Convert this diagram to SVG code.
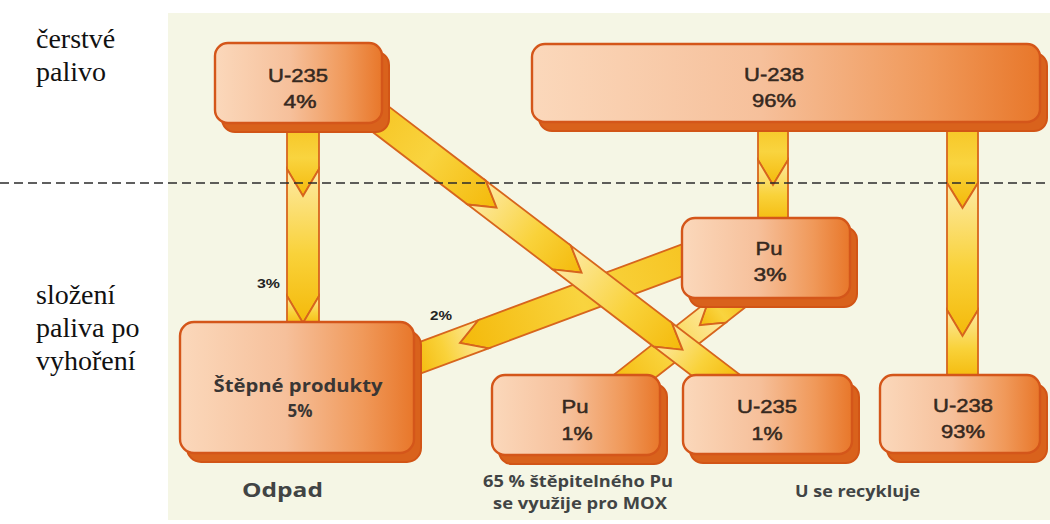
<svg xmlns="http://www.w3.org/2000/svg" width="1050" height="524" viewBox="0 0 1050 524">
<defs>
<linearGradient id="gNode" x1="0" y1="0" x2="1" y2="0">
<stop offset="0" stop-color="#fbd8bb"/>
<stop offset="0.45" stop-color="#f6c09b"/>
<stop offset="0.78" stop-color="#f0995a"/>
<stop offset="1" stop-color="#e8772a"/>
</linearGradient>
<linearGradient id="gSeg" x1="0" y1="0" x2="1" y2="0">
<stop offset="0" stop-color="#fdeaa4"/>
<stop offset="0.55" stop-color="#f9d23a"/>
<stop offset="1" stop-color="#f4b90a"/>
</linearGradient>
<linearGradient id="gSeg0" x1="0" y1="0" x2="1" y2="0">
<stop offset="0" stop-color="#f6c320"/>
<stop offset="0.5" stop-color="#f9d43f"/>
<stop offset="1" stop-color="#f4b90a"/>
</linearGradient>
<style>
.seg{fill:url(#gSeg);stroke:#d7651d;stroke-width:1.8;stroke-linejoin:miter}
.seg0{fill:url(#gSeg0);stroke:#d7651d;stroke-width:1.8;stroke-linejoin:miter}
.shadow{fill:#d9621c;stroke:#d25516;stroke-width:2}
.box{fill:url(#gNode);stroke:#d4561a;stroke-width:2.4}
.nt{font-family:"Liberation Sans",Arial,sans-serif;font-size:19px;fill:#36291f;stroke:#36291f;stroke-width:0.5;text-anchor:middle}
.ht{font-family:"Open Sans","Liberation Sans",sans-serif;font-weight:700;fill:#3a3634;text-anchor:middle}
.lt{font-family:"Open Sans","Liberation Sans",sans-serif;font-weight:700;fill:#414444;text-anchor:middle}
.pct{font-family:"Liberation Sans",Arial,sans-serif;font-weight:700;font-size:12.5px;fill:#222;text-anchor:middle}
.side{font-family:"Liberation Serif","Times New Roman",serif;font-size:28px;fill:#111}
</style>
</defs>
<rect x="0" y="0" width="1050" height="524" fill="#ffffff"/>
<rect x="168" y="13" width="882" height="507" fill="#f5f6e5"/>
<g id="side-labels">
<text class="side" x="36" y="48">čerstvé</text>
<text class="side" x="36" y="81">palivo</text>
<text class="side" x="36" y="304">složení</text>
<text class="side" x="36" y="337">paliva po</text>
<text class="side" x="36" y="370">vyhoření</text>
</g>
<g id="connectors">
<g id="arrow-pu3-fp" transform="translate(701.7,253) rotate(159.59)">
<polygon class="seg0" points="0,-15 233,-15 258,0 233,15 0,15"/>
<polygon class="seg" points="233,-15 310,-15 310,15 233,15 258,0"/>
</g>
<g id="arrow-pu3-pu1" transform="translate(738.3,295) rotate(141.93)">
<polygon class="seg0" points="0,-14 27,-14 49,0 27,14 0,14"/>
<polygon class="seg" points="27,-14 157,-14 157,14 27,14 49,0"/>
</g>
<g id="arrow-u235-u235" transform="translate(363.1,105.8) rotate(37.37)">
<polygon class="seg0" points="0,-15 143,-15 168,0 143,15 0,15"/>
<polygon class="seg" points="143,-15 250,-15 275,0 250,15 143,15 168,0"/>
<polygon class="seg" points="250,-15 377,-15 402,0 377,15 250,15 275,0"/>
<polygon class="seg" points="377,-15 465,-15 465,15 377,15 402,0"/>
</g>
<g id="arrow-u235-fp" transform="translate(303,120) rotate(90)">
<polygon class="seg0" points="0,-16 49,-16 76,0 49,16 0,16"/>
<polygon class="seg" points="49,-16 176,-16 203,0 176,16 49,16 76,0"/>
<polygon class="seg" points="176,-16 206,-16 206,16 176,16 203,0"/>
</g>
<g id="arrow-u238-pu3" transform="translate(773,118) rotate(90)">
<polygon class="seg0" points="0,-15 42,-15 67,0 42,15 0,15"/>
<polygon class="seg" points="42,-15 106,-15 106,15 42,15 67,0"/>
</g>
<g id="arrow-u238-u238" transform="translate(962.5,118) rotate(90)">
<polygon class="seg0" points="0,-15.5 65,-15.5 90,0 65,15.5 0,15.5"/>
<polygon class="seg" points="65,-15.5 192,-15.5 218,0 192,15.5 65,15.5 90,0"/>
<polygon class="seg" points="192,-15.5 262,-15.5 262,15.5 192,15.5 218,0"/>
</g>
<text class="pct" x="268.5" y="288" textLength="23" lengthAdjust="spacingAndGlyphs">3%</text>
<text class="pct" x="441" y="320" textLength="22" lengthAdjust="spacingAndGlyphs">2%</text>
</g>
<line x1="0" y1="183" x2="1050" y2="183" stroke="#2b2b2b" stroke-width="1.6" stroke-dasharray="9 5"/>
<g id="node-u235-fresh">
<rect class="shadow" x="222" y="52" width="167" height="80" rx="13"/>
<rect class="box" x="215" y="43" width="167" height="80" rx="13"/>
<text class="nt" x="298" y="82" textLength="60" lengthAdjust="spacingAndGlyphs">U-235</text>
<text class="nt" x="300" y="108" textLength="33" lengthAdjust="spacingAndGlyphs">4%</text>
</g>
<g id="node-u238-fresh">
<rect class="shadow" x="539" y="53" width="508" height="78" rx="13"/>
<rect class="box" x="532" y="44" width="508" height="78" rx="13"/>
<text class="nt" x="774" y="81" textLength="60" lengthAdjust="spacingAndGlyphs">U-238</text>
<text class="nt" x="774" y="107" textLength="44" lengthAdjust="spacingAndGlyphs">96%</text>
</g>
<g id="node-pu3">
<rect class="shadow" x="689" y="227" width="168" height="80" rx="13"/>
<rect class="box" x="682" y="218" width="168" height="80" rx="13"/>
<text class="nt" x="769" y="255" textLength="27" lengthAdjust="spacingAndGlyphs">Pu</text>
<text class="nt" x="770" y="281" textLength="33" lengthAdjust="spacingAndGlyphs">3%</text>
</g>
<g id="node-fission-products">
<rect class="shadow" x="187" y="331" width="234" height="131" rx="14"/>
<rect class="box" x="180" y="322" width="234" height="131" rx="14"/>
<text class="ht" x="298" y="392" font-size="17.5" textLength="169" lengthAdjust="spacingAndGlyphs">Štěpné produkty</text>
<text class="ht" x="300" y="417" font-size="17.5" textLength="25" lengthAdjust="spacingAndGlyphs">5%</text>
</g>
<g id="node-pu1">
<rect class="shadow" x="499" y="384" width="168" height="80" rx="13"/>
<rect class="box" x="492" y="375" width="168" height="80" rx="13"/>
<text class="nt" x="575" y="413" textLength="27" lengthAdjust="spacingAndGlyphs">Pu</text>
<text class="nt" x="577" y="440" textLength="31" lengthAdjust="spacingAndGlyphs">1%</text>
</g>
<g id="node-u235-spent">
<rect class="shadow" x="690" y="384" width="169" height="79" rx="13"/>
<rect class="box" x="683" y="375" width="169" height="79" rx="13"/>
<text class="nt" x="767" y="413" textLength="60" lengthAdjust="spacingAndGlyphs">U-235</text>
<text class="nt" x="767" y="440" textLength="31" lengthAdjust="spacingAndGlyphs">1%</text>
</g>
<g id="node-u238-spent">
<rect class="shadow" x="887" y="384" width="160" height="78" rx="13"/>
<rect class="box" x="880" y="375" width="160" height="78" rx="13"/>
<text class="nt" x="963" y="412" textLength="60" lengthAdjust="spacingAndGlyphs">U-238</text>
<text class="nt" x="963" y="438" textLength="44" lengthAdjust="spacingAndGlyphs">93%</text>
</g>
<g id="bottom-labels">
<text class="lt" x="282.5" y="497" font-size="19" textLength="81" lengthAdjust="spacingAndGlyphs">Odpad</text>
<text class="lt" x="578" y="487" font-size="15.5" textLength="190" lengthAdjust="spacingAndGlyphs">65 % štěpitelného Pu</text>
<text class="lt" x="580" y="509" font-size="15.5" textLength="174" lengthAdjust="spacingAndGlyphs">se využije pro MOX</text>
<text class="lt" x="857.5" y="497" font-size="16.5" textLength="125" lengthAdjust="spacingAndGlyphs">U se recykluje</text>
</g>
</svg>
